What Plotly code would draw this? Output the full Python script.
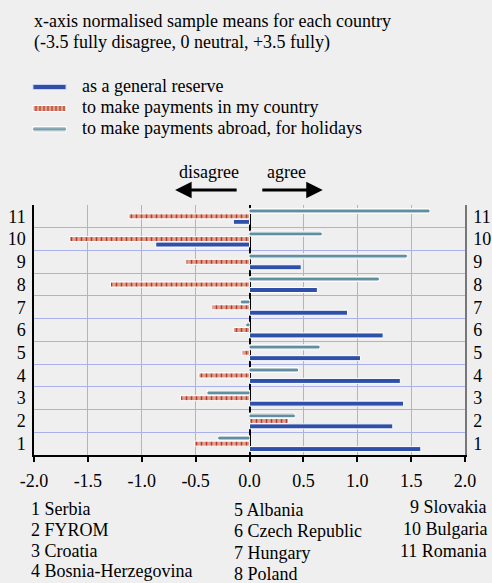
import plotly.graph_objects as go

countries = ["Serbia", "FYROM", "Croatia", "Bosnia-Herzegovina", "Albania",
             "Czech Republic", "Hungary", "Poland", "Slovakia", "Bulgaria", "Romania"]
ids = list(range(1, 12))
general_reserve = [1.59, 1.33, 1.43, 1.40, 1.03, 1.24, 0.91, 0.63, 0.48, -0.87, -0.15]
payments_home = [-0.51, 0.36, -0.64, -0.47, -0.07, -0.15, -0.35, -1.29, -0.59, -1.67, -1.12]
payments_abroad = [-0.29, 0.42, -0.39, 0.45, 0.65, -0.03, -0.08, 1.20, 1.46, 0.67, 1.67]
x_ticks = [-2.0, -1.5, -1.0, -0.5, 0.0, 0.5, 1.0, 1.5, 2.0]
title_lines = ["x-axis normalised sample means for each country",
               "(-3.5 fully disagree, 0 neutral, +3.5 fully)"]
legend_labels = ["as a general reserve", "to make payments in my country",
                 "to make payments abroad, for holidays"]

FONT = "Liberation Serif"
FS = 18
BG = "#efefef"
BLUE = "#2f50a8"
SALMON = "#dda08e"
DARKRED = "#b83a2a"
TEAL_L = "#b4c6ce"
TEAL_D = "#5f8fa0"
GRID = "#aab0ea"

fig = go.Figure()
fig.add_trace(go.Bar(y=ids, x=general_reserve, orientation="h", width=0.22, offset=-0.35,
                     marker=dict(color=BLUE, line=dict(color="white", width=1)),
                     name=legend_labels[0], showlegend=False))
fig.add_trace(go.Bar(y=ids, x=payments_home, orientation="h", width=0.22, offset=-0.11,
                     marker=dict(color=SALMON, line=dict(color="white", width=1),
                                 pattern=dict(shape="|", fgcolor=DARKRED, bgcolor=SALMON,
                                              size=5, solidity=0.3, fillmode="replace")),
                     name=legend_labels[1], showlegend=False))
fig.add_trace(go.Bar(y=ids, x=payments_abroad, orientation="h", width=0.22, offset=0.13,
                     marker=dict(color=TEAL_L, line=dict(color="white", width=1)),
                     name=legend_labels[2], showlegend=False))
fig.add_trace(go.Bar(y=ids, x=payments_abroad, orientation="h", width=0.05, offset=0.215,
                     marker=dict(color=TEAL_D, line=dict(width=0)),
                     showlegend=False, hoverinfo="skip"))
# invisible trace to anchor the right-hand axis
fig.add_trace(go.Scatter(x=[0], y=[1], yaxis="y2", mode="markers",
                         marker=dict(opacity=0), showlegend=False, hoverinfo="skip"))

def tf():
    return dict(family=FONT, size=FS, color="black")

fig.update_layout(
    width=492, height=583,
    margin=dict(l=34, r=27, t=205, b=128),
    paper_bgcolor=BG, plot_bgcolor=BG,
    barmode="overlay",
    showlegend=False,
    font=tf(),
    xaxis=dict(range=[-2, 2], tickvals=x_ticks, ticktext=[f"{v:.1f}" for v in x_ticks],
               automargin=False,
               showgrid=True, gridcolor=GRID, gridwidth=1,
               zeroline=True, zerolinecolor="black", zerolinewidth=1.5,
               showline=True, linecolor="black", linewidth=1.5,
               ticks="outside", ticklen=5, tickcolor="black", tickwidth=1.5,
               ticklabelstandoff=4, tickfont=tf()),
    yaxis=dict(range=[0.5, 11.5], tickvals=ids, ticktext=[str(i) for i in ids],
               automargin=False,
               showgrid=False, zeroline=False,
               showline=True, linecolor="black", linewidth=1.5,
               ticks="", ticklabelstandoff=3, tickfont=tf(),
               minor=dict(tickvals=[i + 0.5 for i in range(0, 12)], showgrid=True,
                          gridcolor=GRID, gridwidth=1, ticks="")),
    yaxis2=dict(range=[0.5, 11.5], overlaying="y", side="right",
                automargin=False,
                tickvals=ids, ticktext=[str(i) for i in ids],
                showgrid=False, zeroline=False,
                showline=True, linecolor="#777777", linewidth=1.5,
                ticks="", ticklabelstandoff=3, tickfont=tf()),
)

W, H = 492, 583
L, R, T, B = 34, 27, 205, 128
pw, ph = W - L - R, H - T - B

def px(xp):
    return (xp - L) / pw

def py(yp):
    return (H - B - yp) / ph

def label(text, x, y, anchor="left"):
    return dict(text=text, x=px(x), y=py(y), xref="paper", yref="paper",
                xanchor=anchor, yanchor="middle", showarrow=False, font=tf())

anns = []
for line, yy in zip(title_lines, [21, 42.5]):
    anns.append(label(line, 32, yy))
for lab, yy in zip(legend_labels, [86, 106.5, 128]):
    anns.append(label(lab, 80, yy))
anns.append(label("disagree", 208.5, 172, "center"))
anns.append(label("agree", 286, 172, "center"))
# arrows
anns.append(dict(text="", x=-0.69, y=py(190), xref="x", yref="paper", ax=63, ay=0,
                 showarrow=True, arrowhead=2, arrowsize=1.1, arrowwidth=3, arrowcolor="black"))
anns.append(dict(text="", x=0.68, y=py(190), xref="x", yref="paper", ax=-62, ay=0,
                 showarrow=True, arrowhead=2, arrowsize=1.1, arrowwidth=3, arrowcolor="black"))
# country key
col1_y = [509, 529.5, 550.5, 571]
col2_y = [509.5, 531, 552.5, 574]
col3_y = [507, 529, 551]
for i, yy in zip(range(1, 5), col1_y):
    anns.append(label(f"{i} {countries[i-1]}", 29, yy))
for i, yy in zip(range(5, 9), col2_y):
    anns.append(label(f"{i} {countries[i-1]}", 232, yy))
for i, yy in zip(range(9, 12), col3_y):
    anns.append(label(f"{i} {countries[i-1]}", 489, yy, "right"))
fig.update_layout(annotations=anns)

# legend swatches
shapes = []
def rect(x0, x1, y0, y1, fill, lc="white", lw=1):
    return dict(type="rect", xref="paper", yref="paper", x0=px(x0), x1=px(x1),
                y0=py(y1), y1=py(y0), fillcolor=fill, line=dict(color=lc, width=lw), layer="above")
shapes.append(rect(33, 66, 84.5, 89.5, BLUE, "#c8d0f0"))
shapes.append(rect(33, 66, 105.5, 111.5, SALMON, "white"))
for xs in range(36, 66, 4):
    shapes.append(dict(type="line", xref="paper", yref="paper", x0=px(xs), x1=px(xs),
                       y0=py(106), y1=py(111), line=dict(color=DARKRED, width=1.2), layer="above"))
shapes.append(rect(33, 66, 126.5, 132, TEAL_L, "white"))
shapes.append(dict(type="line", xref="paper", yref="paper", x0=px(33), x1=px(66),
                   y0=py(129.2), y1=py(129.2), line=dict(color=TEAL_D, width=1.3), layer="above"))
fig.update_layout(shapes=shapes)

fig.write_html("out.html")
